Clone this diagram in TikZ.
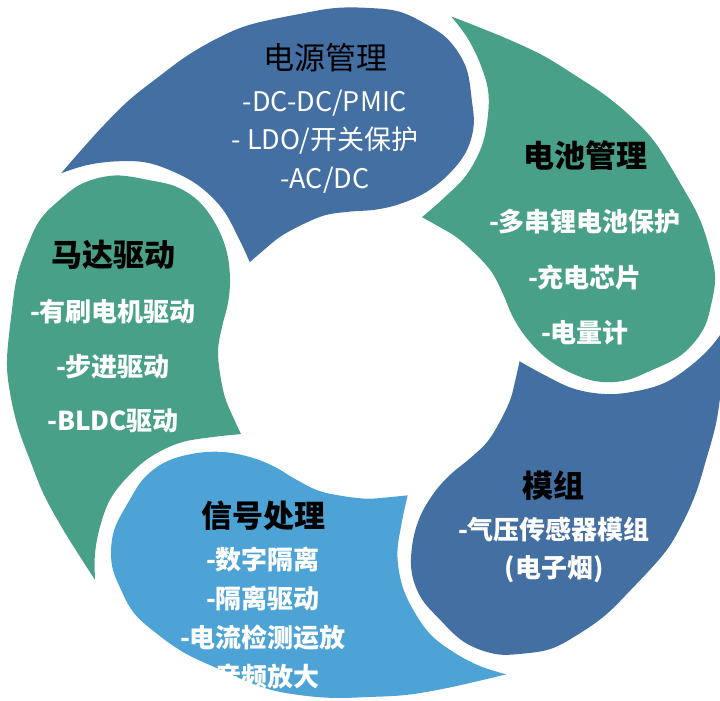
\documentclass[tikz,border=0pt]{standalone}
\usepackage{fontspec}
\setmainfont{Noto Sans CJK SC}
\usepackage{tikz}
\definecolor{cycleBlue}{HTML}{436FA2}
\definecolor{cycleGreen}{HTML}{49A088}
\definecolor{cycleSky}{HTML}{4DA3D5}
\newcommand{\swirl}{plot[smooth,tension=.6] coordinates {(-273,-234) (-288,-210) (-306,-180) (-324,-146) (-338,-110) (-350,-76) (-358,-40) (-361,-6) (-356,46) (-351,80) (-341,111) (-328,139) (-308,160) (-285,177) (-253,185) (-218,180) (-191,173) (-168,157) (-151,132) (-141,105) (-138,77) (-140,53) (-146,28) (-150,4) (-148,-20) (-143,-45) (-135,-65) (-127,-83)} -- plot[smooth,tension=.6] coordinates {(-127,-83) (-155,-86) (-188,-92) (-218,-107) (-241,-128) (-258,-151) (-268,-179) (-273,-207) (-273,-234)} -- cycle}

\begin{document}
\begin{tikzpicture}[x=1pt,y=1pt]
\tikzstyle{heading}=[font=\fontsize{31}{36}\selectfont\bfseries,text=black,inner sep=0pt]
\tikzstyle{entries}=[align=center,text=white,font=\fontsize{26}{55}\selectfont\bfseries,inner sep=0pt]
\useasboundingbox (0,0) rectangle (720,-701);
\clip (0,0) rectangle (720,-701);
\begin{scope}[shift={(368,-354)},yscale=.965]
\foreach \k/\c in {0/cycleGreen,1/cycleSky,2/cycleBlue,3/cycleGreen,4/cycleBlue}{\fill[fill=\c,rotate=72*\k] \swirl;}
\end{scope}
\node[heading,font=\fontsize{31}{36}\selectfont] (power) at (325,-58) {电源管理};
\node[entries,font=\fontsize{27}{38.5}\selectfont] (powerList) at (325,-141.5) {-DC-DC/PMIC\\- LDO/开关保护\\-AC/DC};
\node[heading] (battery) at (585,-156) {电池管理};
\node[entries,font=\fontsize{26}{55.5}\selectfont\bfseries] (batteryList) at (585,-277.5) {-多串锂电池保护\\-充电芯片\\-电量计};
\node[heading] (motor) at (113,-255) {马达驱动};
\node[entries,font=\fontsize{26}{54.5}\selectfont\bfseries] (motorList) at (113,-366.5) {-有刷电机驱动\\-步进驱动\\-BLDC驱动};
\node[heading] (module) at (553,-486) {模组};
\node[entries,font=\fontsize{26}{38}\selectfont\bfseries] (moduleList) at (554,-550) {-气压传感器模组\\(电子烟)};
\node[heading] (signal) at (263,-516) {信号处理};
\node[entries,font=\fontsize{26}{39}\selectfont\bfseries] (signalList) at (263,-618) {-数字隔离\\-隔离驱动\\-电流检测运放\\-音频放大};
\end{tikzpicture}
\end{document}
